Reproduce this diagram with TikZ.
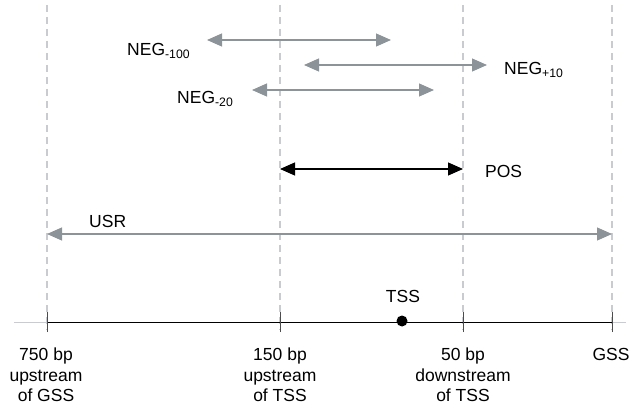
\documentclass[tikz,border=0pt]{standalone}
\usepackage{fontspec}
\setmainfont{Liberation Sans}
\usetikzlibrary{arrows.meta}
\definecolor{guide}{RGB}{200,204,208}
\definecolor{arrgray}{RGB}{140,148,154}
\begin{document}
\begin{tikzpicture}[x=1pt,y=-1pt,
  lbl/.style={font=\fontsize{17.5}{20.5}\selectfont, inner sep=0pt},
  ticklbl/.style={font=\fontsize{17.5}{20.5}\selectfont, align=center, inner sep=0pt, anchor=north},
  guideline/.style={draw=guide, line width=1.2pt, dash pattern=on 7pt off 5pt},
  grayarr/.style={draw=arrgray, line width=1.2pt, {Triangle[length=15pt,width=13pt]}-{Triangle[length=15pt,width=13pt]}},
  blackarr/.style={draw=black, line width=1.2pt, {Triangle[length=15pt,width=13pt]}-{Triangle[length=15pt,width=13pt]}},
  tick/.style={draw=black!70, line width=0.9pt}]
\useasboundingbox (0,0) rectangle (640,406);
% guide lines
\coordinate (g1t) at (47,5);   \coordinate (g1b) at (47,330);
\coordinate (g2t) at (280,5);  \coordinate (g2b) at (280,330);
\coordinate (g3t) at (463,5);  \coordinate (g3b) at (463,330);
\coordinate (g4t) at (612,5);  \coordinate (g4b) at (612,330);
\draw[guideline] (g1t) -- (g1b);
\draw[guideline] (g2t) -- (g2b);
\draw[guideline] (g3t) -- (g3b);
\draw[guideline] (g4t) -- (g4b);
% arrows
\coordinate (n100a) at (207,40); \coordinate (n100b) at (391,40);
\coordinate (n10a) at (304,65);  \coordinate (n10b) at (487,65);
\coordinate (n20a) at (252,90);  \coordinate (n20b) at (434,90);
\coordinate (posa) at (280,169); \coordinate (posb) at (463,169);
\coordinate (usra) at (47,234);  \coordinate (usrb) at (612,234);
\draw[grayarr] (n100a) -- (n100b);
\draw[grayarr] (n10a) -- (n10b);
\draw[grayarr] (n20a) -- (n20b);
\draw[blackarr] (posa) -- (posb);
\draw[grayarr] (usra) -- (usrb);
% labels
\node[lbl, anchor=base west] (l100) at (127,56) {NEG\textsubscript{-100}};
\node[lbl, anchor=base west] (l10) at (504,75) {NEG\textsubscript{+10}};
\node[lbl, anchor=base west] (l20) at (177,104) {NEG\textsubscript{-20}};
\node[lbl, anchor=base west] (lpos) at (485,178) {POS};
\node[lbl, anchor=base west] (lusr) at (89,228) {USR};
% axis
\coordinate (axl) at (14,322); \coordinate (axr) at (626,322);
\coordinate (a1) at (47,322); \coordinate (a2) at (280,322);
\coordinate (a3) at (463,322); \coordinate (a4) at (612,322);
\draw[guide, line width=1pt] (axl) -- (axr);
\draw[black, line width=1pt] (a1) -- (a4);
\foreach \p in {a1,a2,a3,a4} \draw[tick] ([yshift=-10pt]\p) -- ([yshift=10pt]\p);
\node[circle, fill=black, inner sep=0pt, minimum size=11pt] (tss) at (402,321) {};
\node[lbl, anchor=base] (ltss) at (403,302) {TSS};
\node[ticklbl] (t1) at (46,348) {750 bp\\upstream\\of GSS};
\node[ticklbl] (t2) at (280,348) {150 bp\\upstream\\of TSS};
\node[ticklbl] (t3) at (463,348) {50 bp\\downstream\\of TSS};
\node[ticklbl] (t4) at (611,348) {GSS};
\end{tikzpicture}
\end{document}
